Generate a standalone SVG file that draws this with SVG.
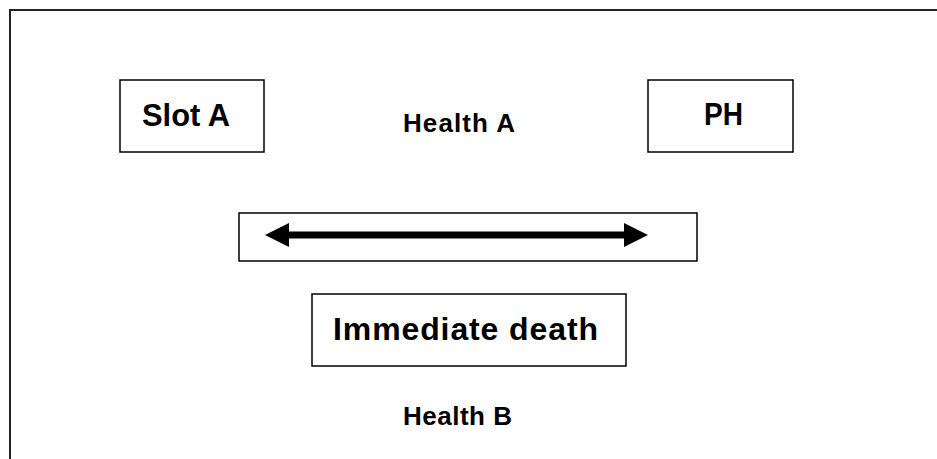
<svg xmlns="http://www.w3.org/2000/svg" width="937" height="459" viewBox="0 0 937 459">
<style>
.box{fill:#fff;stroke:#000;stroke-width:1.5}
.t{font-family:"Liberation Sans",Arial,sans-serif;font-weight:bold;fill:#000}
.big{font-size:32px}
.sm{font-size:26px}
</style>
<defs>
<marker id="ah" viewBox="0 0 24 24" refX="0" refY="12" markerWidth="24" markerHeight="24" markerUnits="userSpaceOnUse" orient="auto-start-reverse">
<path d="M0,0 L24,12 L0,24 Z" fill="#000"/>
</marker>
</defs>
<rect width="937" height="459" fill="#fff"/>
<path d="M10,470 V10 H945" fill="none" stroke="#222" stroke-width="2"/>
<g id="slotA">
<rect class="box" x="120" y="80" width="144" height="72"/>
<text class="t big" x="142" y="126" textLength="88" lengthAdjust="spacingAndGlyphs">Slot A</text>
</g>
<g id="healthA">
<text class="t sm" x="403" y="132" textLength="112" lengthAdjust="spacing">Health A</text>
</g>
<g id="ph">
<rect class="box" x="648" y="80" width="145" height="72"/>
<text class="t big" x="704" y="125" textLength="39" lengthAdjust="spacingAndGlyphs">PH</text>
</g>
<g id="arrowBox">
<rect class="box" x="239" y="213" width="458" height="48"/>
</g>
<g id="connectors">
<line x1="289" y1="235" x2="624" y2="235" stroke="#000" stroke-width="7" marker-start="url(#ah)" marker-end="url(#ah)"/>
</g>
<g id="immediateDeath">
<rect class="box" x="312" y="294" width="314" height="72"/>
<text class="t big" x="333" y="340" textLength="265" lengthAdjust="spacing">Immediate death</text>
</g>
<g id="healthB">
<text class="t sm" x="403" y="425" textLength="109" lengthAdjust="spacing">Health B</text>
</g>
</svg>
